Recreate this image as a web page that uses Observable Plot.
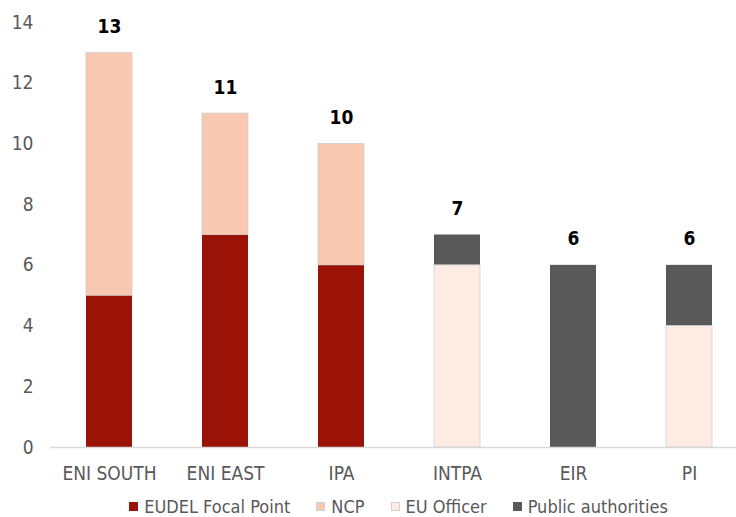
<!DOCTYPE html>
<html>
<head>
<meta charset="utf-8">
<script src="https://cdn.jsdelivr.net/npm/d3@7"></script>
<script src="https://cdn.jsdelivr.net/npm/@observablehq/plot@0.6"></script>
<style>
  html, body { margin: 0; padding: 0; background: #fff; overflow: hidden; }
  body { width: 736px; height: 517px; position: relative;
         font-family: "Liberation Sans Narrow", "DejaVu Sans Condensed", sans-serif; }
  #chart { position: absolute; left: 0; top: 0; }
  #legend { position: absolute; left: 50px; width: 697px; top: 497px; height: 19px;
            display: flex; justify-content: center; align-items: center;
            font-size: 18px; color: #595959; line-height: 19px; white-space: nowrap; }
  .item { display: flex; align-items: center; margin: 0 13px; }
  .sw { width: 9px; height: 9px; margin-right: 6px; box-sizing: border-box; }
</style>
</head>
<body>
<div id="chart"></div>
<div id="legend"></div>
<script>
const categories = ["ENI SOUTH", "ENI EAST", "IPA", "INTPA", "EIR", "PI"];
const series = ["EUDEL Focal Point", "NCP", "EU Officer", "Public authorities"];
const eudelFocalPoint   = [5, 7, 6, 0, 0, 0];
const ncp               = [8, 4, 4, 0, 0, 0];
const euOfficer         = [0, 0, 0, 6, 0, 4];
const publicAuthorities = [0, 0, 0, 1, 6, 2];
const colors = ["#9b1306", "#f8c8b1", "#fdebe4", "#595959"];
const yTicks = [0, 2, 4, 6, 8, 10, 12, 14];

const seriesValues = [eudelFocalPoint, ncp, euOfficer, publicAuthorities];

// Build stacked rows from the arrays
const rows = [];
const totals = [];
categories.forEach((c, i) => {
  let acc = 0;
  series.forEach((s, j) => {
    const v = seriesValues[j][i];
    if (v > 0) rows.push({category: c, series: s, value: v, y1: acc, y2: acc + v});
    acc += v;
  });
  totals.push({category: c, total: acc});
});
const lightSeries = new Set(["NCP", "EU Officer"]);

const plot = Plot.plot({
  width: 736,
  height: 495,
  marginLeft: 50,
  marginRight: 0,
  marginTop: 22,
  marginBottom: 48,
  style: {
    fontFamily: '"Liberation Sans Narrow", "DejaVu Sans Condensed", sans-serif',
    fontSize: "19px",
    color: "#595959",
    background: "#fff"
  },
  x: {domain: categories, range: [51, 747], paddingInner: 0.6, paddingOuter: 0.3,
      label: null, tickSize: 0, tickPadding: 19},
  y: {domain: [0, 14], ticks: yTicks, label: null, tickSize: 0, tickPadding: 17},
  color: {domain: series, range: colors},
  marks: [
    Plot.barY(rows, {x: "category", y1: "y1", y2: "y2", fill: "series"}),
    Plot.barY(rows.filter(d => lightSeries.has(d.series)),
      {x: "category", y1: "y1", y2: "y2", fill: "none", stroke: "#cfcfcf", strokeWidth: 0.8}),
    Plot.ruleY([0], {stroke: "#d9d9d9", strokeWidth: 1.5}),
    Plot.text(totals, {x: "category", y: "total", text: d => String(d.total),
      dy: -26, fontWeight: "bold", fill: "#000", fontSize: 19})
  ]
});
document.getElementById("chart").appendChild(plot);

const legend = document.getElementById("legend");
series.forEach((s, j) => {
  const item = document.createElement("div");
  item.className = "item";
  const sw = document.createElement("div");
  sw.className = "sw";
  sw.style.background = colors[j];
  if (lightSeries.has(s)) sw.style.border = "1px solid #d0d0d0";
  const t = document.createElement("span");
  t.textContent = s;
  item.appendChild(sw);
  item.appendChild(t);
  legend.appendChild(item);
});
</script>
</body>
</html>
